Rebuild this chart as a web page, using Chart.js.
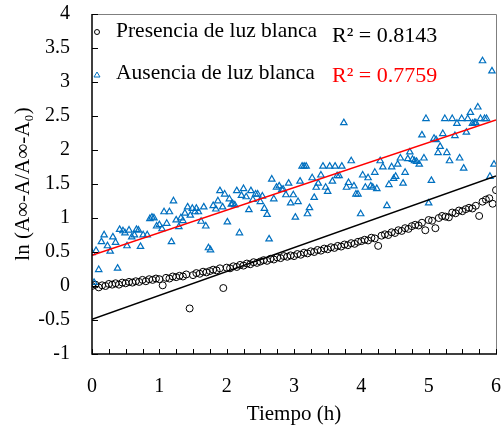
<!DOCTYPE html>
<html lang="es">
<head>
<meta charset="utf-8">
<title>ln (A∞-A/A∞-A₀) vs Tiempo (h)</title>
<script src="https://cdn.jsdelivr.net/npm/chart.js@4.4.1/dist/chart.umd.min.js"></script>
<style>
  html, body { margin: 0; padding: 0; background: #fff; }
  #wrap { width: 502px; height: 433px; }
</style>
</head>
<body>
<div id="wrap"><canvas id="chart" width="502" height="433"></canvas></div>
<script>
// -------- datos -------------------------------
const presenciaT = [
  0.00, 0.05, 0.10, 0.15, 0.20, 0.25, 0.30, 0.35, 0.40, 0.45,
  0.50, 0.55, 0.60, 0.65, 0.70, 0.75, 0.80, 0.85, 0.90, 0.95,
  1.00, 1.05, 1.10, 1.15, 1.20, 1.25, 1.30, 1.35, 1.40, 1.45,
  1.50, 1.55, 1.60, 1.65, 1.70, 1.75, 1.80, 1.85, 1.90, 1.95,
  2.00, 2.05, 2.10, 2.15, 2.20, 2.25, 2.30, 2.35, 2.40, 2.45,
  2.50, 2.55, 2.60, 2.65, 2.70, 2.75, 2.80, 2.85, 2.90, 2.95,
  3.00, 3.05, 3.10, 3.15, 3.20, 3.25, 3.30, 3.35, 3.40, 3.45,
  3.50, 3.55, 3.60, 3.65, 3.70, 3.75, 3.80, 3.85, 3.90, 3.95,
  4.00, 4.05, 4.10, 4.15, 4.20, 4.25, 4.30, 4.35, 4.40, 4.45,
  4.50, 4.55, 4.60, 4.65, 4.70, 4.75, 4.80, 4.85, 4.90, 4.95,
  5.00, 5.05, 5.10, 5.15, 5.20, 5.25, 5.30, 5.35, 5.40, 5.45,
  5.50, 5.55, 5.60, 5.65, 5.70, 5.75, 5.80, 5.85, 5.90, 5.95,
  6.00
];
const presenciaLn = [
  0.00, 0.02, -0.02, 0.01, 0.00, 0.03, 0.02, 0.04, 0.02, 0.05,
  0.04, 0.06, 0.05, 0.07, 0.06, 0.09, 0.07, 0.10, 0.09, 0.11,
  0.10, 0.01, 0.12, 0.11, 0.14, 0.13, 0.15, 0.14, 0.17, -0.33,
  0.16, 0.19, 0.18, 0.21, 0.20, 0.22, 0.24, 0.23, 0.26, -0.03,
  0.27, 0.26, 0.29, 0.28, 0.31, 0.30, 0.33, 0.32, 0.35, 0.34,
  0.36, 0.38, 0.37, 0.40, 0.39, 0.42, 0.41, 0.44, 0.43, 0.45,
  0.44, 0.47, 0.46, 0.49, 0.48, 0.51, 0.50, 0.53, 0.52, 0.55,
  0.54, 0.57, 0.56, 0.59, 0.58, 0.61, 0.60, 0.63, 0.62, 0.65,
  0.66, 0.68, 0.67, 0.71, 0.70, 0.59, 0.74, 0.76, 0.75, 0.79,
  0.78, 0.82, 0.81, 0.85, 0.84, 0.88, 0.90, 0.89, 0.93, 0.82,
  0.97, 0.96, 0.85, 1.00, 1.03, 1.02, 1.01, 1.08, 1.07, 1.11,
  1.10, 1.13, 1.15, 1.14, 1.18, 1.03, 1.24, 1.27, 1.29, 1.21,
  1.41
];

const ausenciaT = [
  0.00, 0.03, 0.06, 0.10, 0.14, 0.18, 0.23, 0.27, 0.31, 0.35,
  0.38, 0.41, 0.46, 0.49, 0.52, 0.55, 0.59, 0.63, 0.66, 0.69,
  0.72, 0.76, 0.82, 0.86, 0.89, 0.92, 0.96, 1.00, 1.04, 1.07,
  1.11, 1.15, 1.18, 1.21, 1.25, 1.29, 1.32, 1.35, 1.38, 1.42,
  1.46, 1.49, 1.53, 1.55, 1.58, 1.62, 1.66, 1.69, 1.73, 1.76,
  1.80, 1.84, 1.87, 1.90, 1.94, 1.97, 2.01, 2.04, 2.07, 2.09,
  2.12, 2.15, 2.19, 2.22, 2.25, 2.29, 2.33, 2.36, 2.39, 2.43,
  2.46, 2.50, 2.53, 2.56, 2.60, 2.63, 2.67, 2.70, 2.74, 2.78,
  2.82, 2.84, 2.88, 2.92, 2.95, 2.99, 3.02, 3.06, 3.09, 3.12,
  3.15, 3.18, 3.20, 3.23, 3.27, 3.30, 3.33, 3.36, 3.40, 3.43,
  3.47, 3.50, 3.53, 3.57, 3.61, 3.64, 3.67, 3.71, 3.74, 3.78,
  3.81, 3.85, 3.89, 3.92, 3.95, 3.99, 4.02, 4.06, 4.10, 4.14,
  4.17, 4.20, 4.23, 4.28, 4.32, 4.38, 4.41, 4.45, 4.48, 4.51,
  4.54, 4.58, 4.62, 4.65, 4.69, 4.72, 4.76, 4.79, 4.82, 4.86,
  4.90, 4.93, 4.96, 5.00, 5.04, 5.08, 5.11, 5.14, 5.17, 5.21,
  5.24, 5.27, 5.31, 5.35, 5.39, 5.42, 5.46, 5.49, 5.52, 5.56,
  5.58, 5.62, 5.65, 5.68, 5.70, 5.73, 5.77, 5.80, 5.83, 5.86,
  5.91, 5.94, 5.97
];
const ausenciaLn = [
  0.49, 0.05, 0.52, 0.24, 0.65, 0.75, 0.59, 0.51, 0.72, 0.64,
  0.26, 0.83, 0.81, 0.78, 0.59, 0.82, 0.72, 0.75, 0.83, 0.82,
  0.58, 0.75, 0.75, 0.99, 1.01, 1.00, 0.88, 0.90, 0.84, 1.09,
  0.92, 1.09, 0.65, 1.25, 0.97, 0.87, 1.00, 0.96, 1.07, 1.16,
  1.04, 1.14, 1.09, 1.14, 1.09, 0.95, 1.16, 0.88, 0.56, 0.53,
  1.18, 1.13, 1.25, 1.40, 1.16, 1.35, 0.94, 1.28, 1.20, 1.21,
  1.19, 1.40, 0.78, 1.33, 1.43, 1.31, 1.12, 1.40, 1.27, 1.35,
  1.35, 1.24, 1.32, 1.14, 1.05, 0.69, 1.57, 1.28, 1.45, 1.47,
  1.42, 1.42, 1.34, 1.51, 1.22, 1.34, 1.01, 1.24, 1.54, 1.76,
  1.76, 1.76, 1.06, 1.15, 1.59, 1.30, 1.45, 1.51, 1.63, 1.76,
  1.45, 1.39, 1.76, 1.54, 1.76, 1.62, 1.62, 1.76, 2.40, 1.45,
  1.52, 1.84, 1.47, 1.35, 1.35, 1.06, 1.63, 1.45, 1.59, 1.47,
  1.45, 1.67, 1.43, 1.84, 1.75, 1.18, 1.49, 1.75, 1.58, 1.61,
  1.79, 1.88, 1.51, 1.67, 1.87, 1.97, 1.86, 1.84, 1.83, 1.79,
  2.22, 1.88, 2.46, 1.22, 1.55, 2.17, 2.15, 1.96, 2.05, 2.24,
  2.46, 1.96, 1.84, 2.46, 2.21, 2.39, 1.88, 2.46, 1.73, 2.26,
  2.46, 2.55, 2.39, 2.40, 2.40, 2.63, 2.46, 3.31, 2.46, 2.46,
  1.61, 3.16, 1.79
];

// rectas de ajuste (extremos en t = 0 y t = 6)
const ajusteT = [0, 6];
const ajustePresencia = [-0.49, 1.62];
const ajusteAusencia = [0.45, 2.44];

const leyenda = ["Presencia de luz blanca", "Ausencia de luz blanca"];
const r2Textos = ["R² = 0.8143", "R² = 0.7759"];

const AZUL = "#0070C0";
const ROJO = "#FF0000";
const SERIF = "'Liberation Serif', 'Times New Roman', serif";

const pares = (xs, ys) => xs.map((x, i) => ({ x, y: ys[i] }));

// -------- plugin: marco, ticks hacia dentro y leyenda ----------
const marco = {
  id: "marco",
  afterDraw(chart) {
    const { ctx, chartArea: a, scales: { x, y } } = chart;
    ctx.save();

    // borde superior y derecho (gris)
    ctx.strokeStyle = "#7f7f7f";
    ctx.lineWidth = 1;
    ctx.beginPath();
    ctx.moveTo(a.left, a.top + 0.5);
    ctx.lineTo(a.right + 0.5, a.top + 0.5);
    ctx.lineTo(a.right + 0.5, a.bottom);
    ctx.stroke();

    // ejes izquierdo e inferior
    ctx.strokeStyle = "#000";
    ctx.lineWidth = 1.5;
    ctx.beginPath();
    ctx.moveTo(a.left, a.top);
    ctx.lineTo(a.left, a.bottom);
    ctx.lineTo(a.right + 1, a.bottom);
    ctx.stroke();

    // ticks hacia dentro
    ctx.lineWidth = 1;
    ctx.beginPath();
    x.ticks.forEach((t) => {
      const px = Math.round(x.getPixelForValue(t.value)) + 0.5;
      ctx.moveTo(px, a.bottom);
      ctx.lineTo(px, a.bottom - 5);
    });
    y.ticks.forEach((t) => {
      const py = Math.round(y.getPixelForValue(t.value)) + 0.5;
      ctx.moveTo(a.left, py);
      ctx.lineTo(a.left + 6, py);
    });
    ctx.stroke();

    // leyenda
    const lx = a.left + 5;
    ctx.lineWidth = 1;
    ctx.strokeStyle = "#000";
    ctx.beginPath();
    ctx.arc(lx, 32, 2.5, 0, Math.PI * 2);
    ctx.stroke();

    ctx.strokeStyle = AZUL;
    ctx.beginPath();
    ctx.moveTo(lx, 72);
    ctx.lineTo(lx + 3, 77);
    ctx.lineTo(lx - 3, 77);
    ctx.closePath();
    ctx.stroke();

    ctx.font = `21.5px ${SERIF}`;
    ctx.textBaseline = "middle";
    ctx.fillStyle = "#000";
    ctx.fillText(leyenda[0], 116, 31);
    ctx.fillText(leyenda[1], 116, 73);

    ctx.font = `22px ${SERIF}`;
    ctx.fillText(r2Textos[0], 332, 36);
    ctx.fillStyle = ROJO;
    ctx.fillText(r2Textos[1], 332, 76);

    ctx.restore();
  }
};

// -------- gráfico ----------
new Chart(document.getElementById("chart"), {
  type: "scatter",
  data: {
    datasets: [
      {
        label: "ajuste presencia",
        data: pares(ajusteT, ajustePresencia),
        showLine: true, borderColor: "#000", borderWidth: 1.5,
        pointRadius: 0, order: 0
      },
      {
        label: "ajuste ausencia",
        data: pares(ajusteT, ajusteAusencia),
        showLine: true, borderColor: ROJO, borderWidth: 1.5,
        pointRadius: 0, order: 0
      },
      {
        label: leyenda[0],
        data: pares(presenciaT, presenciaLn),
        pointStyle: "circle", pointRadius: 3.5, borderWidth: 1,
        borderColor: "#000", backgroundColor: "rgba(0,0,0,0)", order: 2
      },
      {
        label: leyenda[1],
        data: pares(ausenciaT, ausenciaLn),
        pointStyle: "triangle", pointRadius: 3.7, borderWidth: 1.2,
        borderColor: AZUL, backgroundColor: "rgba(0,0,0,0)", order: 1
      }
    ]
  },
  options: {
    responsive: false,
    animation: false,
    devicePixelRatio: 1,
    layout: { padding: { left: 0, right: 6, top: 14, bottom: 0 } },
    plugins: { legend: { display: false }, tooltip: { enabled: false } },
    scales: {
      x: {
        type: "linear", min: 0, max: 6,
        grid: { display: false }, border: { display: false },
        // alto fijo y sin relleno lateral para que el área quede en 92..496
        afterFit: (s) => { s.height = 79; s.paddingLeft = 0; s.paddingRight = 0; },
        ticks: {
          stepSize: 0.25, autoSkip: false, maxRotation: 0, padding: 13,
          color: "#000", font: { family: SERIF, size: 20 },
          callback: (v) => (Number.isInteger(v) ? String(v) : "")
        },
        title: {
          display: true, text: "Tiempo (h)", color: "#000",
          font: { family: SERIF, size: 21 }, padding: { top: 0, bottom: 6 }
        }
      },
      y: {
        type: "linear", min: -1, max: 4,
        grid: { display: false }, border: { display: false },
        afterFit: (s) => { s.width = 92; s.paddingTop = 0; s.paddingBottom = 0; },
        ticks: {
          stepSize: 0.5, padding: 14,
          color: "#000", font: { family: SERIF, size: 20 },
          callback: (v) => String(v)
        },
        title: {
          display: true, text: "ln (A∞-A/A∞-A₀)", color: "#000",
          font: { family: SERIF, size: 21 }, padding: { top: 11, bottom: 0 }
        }
      }
    }
  },
  plugins: [marco]
});
</script>
</body>
</html>
